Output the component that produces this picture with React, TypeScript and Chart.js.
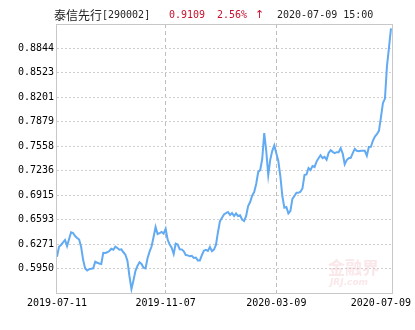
import React, { useEffect, useRef } from "react";
import { Chart, registerables } from "chart.js";

Chart.register(...registerables);

const fundName = "泰信先行";
const fundCode = "[290002]";
const lastValue = "0.9109";
const changePct = "2.56%";
const arrow = "↑";
const stamp = "2020-07-09 15:00";

const xTickLabels = ["2019-07-11", "2019-11-07", "2020-03-09", "2020-07-09"];
const xTickIndex = [0, 54, 109, 167];
const yTickLabels = ["0.5950", "0.6271", "0.6593", "0.6915", "0.7236", "0.7558", "0.7879", "0.8201", "0.8523", "0.8844"];
const yMin = 0.56285;
const yMax = 0.91655;
const slotCount = 168;

const navValues = [
  0.6106, 0.6237, 0.6260, 0.6295, 0.6325, 0.6246, 0.6338, 0.6427, 0.6417, 0.6378,
  0.6352, 0.6332, 0.6233, 0.6062, 0.5951, 0.5924, 0.5943, 0.5948, 0.5953, 0.6039,
  0.6026, 0.6016, 0.6010, 0.6157, 0.6154, 0.6164, 0.6181, 0.6210, 0.6198, 0.6238,
  0.6220, 0.6198, 0.6202, 0.6164, 0.6133, 0.6053, 0.5852, 0.5681, 0.5794, 0.5919,
  0.5986, 0.6032, 0.6010, 0.5962, 0.5951, 0.6085, 0.6172, 0.6240, 0.6365, 0.6496,
  0.6404, 0.6417, 0.6431, 0.6410, 0.6473, 0.6329, 0.6266, 0.6223, 0.6141, 0.6277,
  0.6266, 0.6203, 0.6202, 0.6177, 0.6128, 0.6123, 0.6111, 0.6118, 0.6090, 0.6095,
  0.6057, 0.6057, 0.6125, 0.6185, 0.6196, 0.6181, 0.6233, 0.6178, 0.6200, 0.6260,
  0.6428, 0.6573, 0.6619, 0.6661, 0.6680, 0.6694, 0.6654, 0.6680, 0.6641, 0.6676,
  0.6641, 0.6651, 0.6595, 0.6575, 0.6641, 0.6772, 0.6825, 0.6909, 0.6956, 0.7062,
  0.7219, 0.7246, 0.7390, 0.7732, 0.7496, 0.7180, 0.7382, 0.7498, 0.7569, 0.7465,
  0.7364, 0.7167, 0.6904, 0.6750, 0.6759, 0.6675, 0.6707, 0.6867, 0.6904, 0.6947,
  0.6946, 0.6960, 0.7003, 0.7180, 0.7187, 0.7272, 0.7246, 0.7298, 0.7285, 0.7356,
  0.7401, 0.7440, 0.7401, 0.7418, 0.7381, 0.7469, 0.7506, 0.7484, 0.7468, 0.7480,
  0.7479, 0.7531, 0.7463, 0.7322, 0.7377, 0.7400, 0.7406, 0.7467, 0.7523, 0.7498,
  0.7493, 0.7500, 0.7500, 0.7498, 0.7434, 0.7548, 0.7550, 0.7630, 0.7685, 0.7717,
  0.7761, 0.7936, 0.8127, 0.8185, 0.8613, 0.8854, 0.9109,
];

const MONO = "'DejaVu Sans Mono', monospace";
const CJK = "'Noto Sans CJK SC', sans-serif";

const decorPlugin = {
  id: "decor",
  beforeDatasetsDraw(chart: any) {
    const { ctx, chartArea } = chart;
    ctx.save();
    // watermark
    ctx.fillStyle = "rgba(236,170,175,0.28)";
    ctx.font = `bold 17px ${CJK}`;
    ctx.textAlign = "left";
    ctx.textBaseline = "middle";
    ctx.fillText("金融界", chartArea.right - 65, chartArea.bottom - 25);
    ctx.font = `italic bold 9px 'DejaVu Sans', sans-serif`;
    ctx.fillText("JRJ.com", chartArea.right - 63, chartArea.bottom - 10);
    ctx.restore();
  },
  afterDraw(chart: any) {
    const { ctx, chartArea, scales } = chart;
    ctx.save();
    // plot border
    ctx.strokeStyle = "#c8c8c8";
    ctx.lineWidth = 1;
    ctx.setLineDash([]);
    ctx.strokeRect(chartArea.left - 0.5, chartArea.top + 0.5, chartArea.right - chartArea.left, chartArea.bottom - chartArea.top);
    // x labels
    ctx.font = `10px ${MONO}`;
    ctx.fillStyle = "#000";
    ctx.textBaseline = "middle";
    ctx.textAlign = "left";
    const W = chart.width;
    xTickLabels.forEach((lab, i) => {
      const px = scales.x.getPixelForValue(xTickIndex[i]);
      const w = ctx.measureText(lab).width;
      let x0 = px - w / 2;
      if (x0 + w > W - 4) x0 = W - 4 - w;
      if (x0 < 0) x0 = 0;
      ctx.fillText(lab, x0, chartArea.bottom + 10);
    });
    // header
    const ty = 15;
    ctx.fillStyle = "#222";
    ctx.font = `12px ${CJK}`;
    ctx.fillText(fundName, 54, ty);
    ctx.font = `10px ${MONO}`;
    ctx.fillText(fundCode, 102, ty);
    ctx.fillStyle = "#c8102e";
    ctx.fillText(lastValue, 169, ty);
    ctx.fillText(changePct, 217, ty);
    ctx.font = `11px 'DejaVu Sans', sans-serif`;
    ctx.fillText(arrow, 255, ty);
    ctx.fillStyle = "#222";
    ctx.font = `10px ${MONO}`;
    ctx.fillText(stamp, 277, ty);
    ctx.restore();
  },
};

export default function App() {
  const ref = useRef<HTMLCanvasElement | null>(null);
  useEffect(() => {
    document.body.style.margin = "0";
    const labels = Array.from({ length: slotCount }, (_, i) => String(i));
    const chart = new Chart(ref.current!, {
      type: "line",
      data: {
        labels,
        datasets: [
          {
            data: navValues,
            borderColor: "#62aaf2",
            borderWidth: 2,
            pointRadius: 0,
            tension: 0,
            fill: false,
          },
        ],
      },
      options: {
        animation: false,
        responsive: false,
        maintainAspectRatio: false,
        events: [],
        layout: { padding: { top: 24, right: 22, left: 0, bottom: 0 } },
        plugins: { legend: { display: false }, tooltip: { enabled: false } },
        scales: {
          x: {
            type: "category",
            offset: false,
            afterBuildTicks: (s: any) => {
              s.ticks = [{ value: xTickIndex[1] }, { value: xTickIndex[2] }];
            },
            afterFit: (s: any) => {
              s.height = 37;
            },
            ticks: { display: false, autoSkip: false },
            grid: { color: "#bdbdbd", drawTicks: false, offset: false },
            border: { display: false, dash: [4, 3] },
          },
          y: {
            type: "linear",
            min: yMin,
            max: yMax,
            afterBuildTicks: (s: any) => {
              s.ticks = yTickLabels.map((t) => ({ value: parseFloat(t) }));
            },
            afterFit: (s: any) => {
              s.width = 57;
            },
            ticks: {
              padding: 3,
              color: "#000",
              font: { family: "DejaVu Sans Mono", size: 10 },
              callback: (v: any) => {
                const f = Number(v).toFixed(4);
                return yTickLabels.includes(f) ? f : "";
              },
            },
            grid: { color: "#cfcfcf", drawTicks: false },
            border: { display: false, dash: [2, 2] },
          },
        },
      },
      plugins: [decorPlugin],
    });
    return () => chart.destroy();
  }, []);
  return (
    <div style={{ width: 415, height: 330, background: "#fff" }}>
      <canvas ref={ref} width={415} height={330} style={{ display: "block" }} />
    </div>
  );
}
